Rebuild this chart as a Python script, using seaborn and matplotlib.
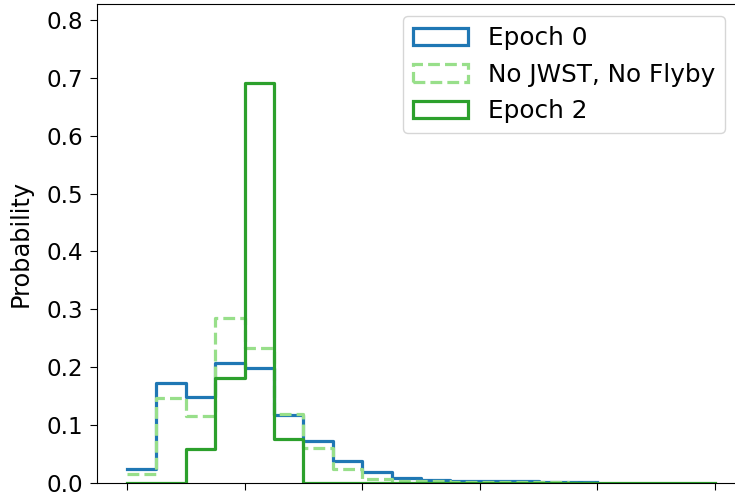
import numpy as np
import pandas as pd
import matplotlib
matplotlib.use("Agg")
import matplotlib.pyplot as plt
import matplotlib.patches as mpatches
import seaborn as sns

# bin edges (0.25 wide)
bin_edges = np.arange(0, 5.0001, 0.25)

# probabilities read per bin
epoch0 = [0.024, 0.173, 0.148, 0.207, 0.198, 0.116, 0.071, 0.037,
          0.019, 0.008, 0.004, 0.003, 0.002, 0.002, 0.001, 0.001]
no_jwst = [0.015, 0.146, 0.115, 0.285, 0.232, 0.119, 0.059, 0.024,
           0.006, 0.003, 0.002, 0.001, 0.001, 0.001, 0.001, 0.0]
epoch2 = [0.0, 0.0, 0.058, 0.180, 0.691, 0.076, 0.0, 0.0, 0.0, 0.0,
          0.0, 0.0, 0.0, 0.0, 0.0, 0.0, 0.0, 0.0, 0.0, 0.0]

labels = ["Epoch 0", "No JWST, No Flyby", "Epoch 2"]
colors = ["#1f77b4", "#98df8a", "#2ca02c"]
styles = ["-", "--", "-"]

plt.rcParams["font.family"] = ["DejaVu Sans"]

fig = plt.figure(figsize=(7.35, 4.93), dpi=100)
ax = fig.add_axes([97 / 735, 10.5 / 493, 640 / 735, 478.5 / 493])

for vals, lab, col, ls in zip([epoch0, no_jwst, epoch2], labels, colors, styles):
    n = len(vals)
    edges = bin_edges[:n + 1]
    centers = (edges[:-1] + edges[1:]) / 2
    df = pd.DataFrame({"x": centers, "w": vals})
    sns.histplot(data=df, x="x", weights="w", bins=edges.tolist(), element="step",
                 fill=False, color=col, linewidth=2.3, linestyle=ls, ax=ax)

ax.set_xlim(-0.255, 5.187)
ax.set_ylim(0, 0.828)
ax.set_xticks(range(6))
ax.set_yticks(np.arange(0, 0.81, 0.1))
ax.set_yticklabels([f"{v:.1f}" for v in np.arange(0, 0.81, 0.1)])
ax.tick_params(axis="x", labelbottom=False, length=5)
ax.tick_params(axis="y", labelsize=16.6, length=5, pad=5)
ax.set_xlabel("")
ax.set_ylabel("Probability", fontsize=17.3)
ax.yaxis.set_label_coords(-0.1, 0.5)

handles = [mpatches.Patch(facecolor="none", edgecolor=c, linestyle=s, linewidth=2.3, label=l)
           for c, s, l in zip(colors, styles, labels)]
ax.legend(handles=handles, loc="upper right", fontsize=17.8, handlelength=2.2)

fig.savefig("out.png", dpi=100)
